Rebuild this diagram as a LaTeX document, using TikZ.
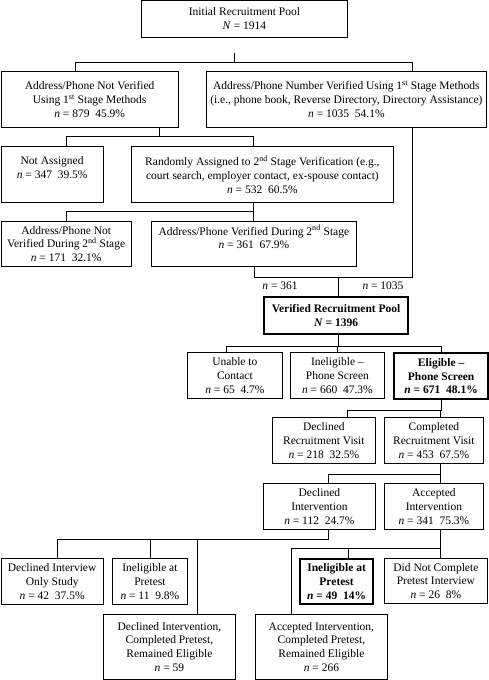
\documentclass[tikz,border=0pt]{standalone}
\usepackage{fontspec}
\setmainfont{Liberation Serif}

\begin{document}
\begin{tikzpicture}[x=1pt, y=-1pt]
			\tikzstyle{Box}		= [draw, line width=0.8pt, align=center, anchor=north west, inner sep=1pt, font=\fontsize{11.5}{13.8}\selectfont]
			\tikzstyle{Heavy}	= [line width=2.2pt, font=\bfseries\fontsize{11.5}{13.8}\selectfont]
			\tikzstyle{Link}	= [line width=0.8pt]
			\tikzstyle{Count}	= [font=\fontsize{11.5}{13.8}\selectfont, inner sep=0pt]
			
			\useasboundingbox (0,0) rectangle (488,680);
			
			% first stage
			\node (init) at (141,0) [Box, minimum width=206pt, minimum height=37pt] {Initial Recruitment Pool\\ \textit{N} = 1914};
			\node (nv1) at (0.5,71) [Box, minimum width=177.5pt, minimum height=56pt] {Address/Phone Not Verified\\ Using 1\textsuperscript{st} Stage Methods\\ \textit{n} = 879\ \ 45.9\%};
			\node (v1) at (206,71) [Box, minimum width=280pt, minimum height=56pt] {Address/Phone Number Verified Using 1\textsuperscript{st} Stage Methods\\ (i.e., phone book, Reverse Directory, Directory Assistance)\\ \textit{n} = 1035\ \ 54.1\%};
			
			% second stage
			\node (na) at (0.5,146) [Box, minimum width=102.5pt, minimum height=56pt] {Not Assigned\\ \textit{n} = 347\ \ 39.5\%\\ \mbox{}};
			\node (ra) at (131,146) [Box, minimum width=262pt, minimum height=56pt] {Randomly Assigned to 2\textsuperscript{nd} Stage Verification (e.g.,\\ court search, employer contact, ex-spouse contact)\\ \textit{n} = 532\ \ 60.5\%};
			\node (nv2) at (0.5,221) [Box, minimum width=130.5pt, minimum height=45pt] {Address/Phone Not\\ Verified During 2\textsuperscript{nd} Stage\\ \textit{n} = 171\ \ 32.1\%};
			\node (v2) at (151,221) [Box, minimum width=205pt, minimum height=45pt] {Address/Phone Verified During 2\textsuperscript{nd} Stage\\ \textit{n} = 361\ \ 67.9\%\\ \mbox{}};
			
			% verified pool
			\node (pool) at (263,296) [Box, Heavy, minimum width=144pt, minimum height=37pt] {Verified Recruitment Pool\\ \textit{N} = 1396};
			\node (c361) at (280,286) [Count] {\textit{n} = 361};
			\node (c1035) at (383,286) [Count] {\textit{n} = 1035};
			
			\node (utc) at (187,352) [Box, minimum width=95pt, minimum height=46pt] {Unable to\\ Contact\\ \textit{n} = 65\ \ 4.7\%};
			\node (inel) at (290,352) [Box, minimum width=94pt, minimum height=46pt] {Ineligible --\\ Phone Screen\\ \textit{n} = 660\ \ 47.3\%};
			\node (elig) at (393,352) [Box, Heavy, minimum width=94pt, minimum height=46pt] {Eligible --\\ Phone Screen\\ \textit{n} = 671\ \ 48.1\%};
			
			\node (drv) at (272,417) [Box, minimum width=103pt, minimum height=46pt] {Declined\\ Recruitment Visit\\ \textit{n} = 218\ \ 32.5\%};
			\node (crv) at (384,417) [Box, minimum width=99pt, minimum height=46pt] {Completed\\ Recruitment Visit\\ \textit{n} = 453\ \ 67.5\%};
			
			\node (di) at (263,483) [Box, minimum width=112pt, minimum height=46pt] {Declined\\ Intervention\\ \textit{n} = 112\ \ 24.7\%};
			\node (ai) at (384,483) [Box, minimum width=99pt, minimum height=46pt] {Accepted\\ Intervention\\ \textit{n} = 341\ \ 75.3\%};
			
			% outcomes
			\node (dios) at (0.5,558) [Box, minimum width=102.5pt, minimum height=46pt] {Declined Interview\\ Only Study\\ \textit{n} = 42\ \ 37.5\%};
			\node (ip1) at (112,558) [Box, minimum width=75pt, minimum height=46pt] {Ineligible at\\ Pretest\\ \textit{n} = 11\ \ 9.8\%};
			\node (dicp) at (103,614) [Box, minimum width=132pt, minimum height=65pt] {Declined Intervention,\\ Completed Pretest,\\ Remained Eligible\\ \textit{n} = 59};
			\node (ip2) at (299,558) [Box, Heavy, minimum width=73pt, minimum height=45pt] {Ineligible at\\ Pretest\\ \textit{n} = 49\ \ 14\%};
			\node (dnc) at (384,558) [Box, minimum width=103pt, minimum height=45pt] {Did Not Complete\\ Pretest Interview\\ \textit{n} = 26\ \ 8\%};
			\node (aicp) at (255,614) [Box, minimum width=132pt, minimum height=65pt] {Accepted Intervention,\\ Completed Pretest,\\ Remained Eligible\\ \textit{n} = 266};
			
			\draw [Link] ([xshift=-10pt, yshift=-15pt]init.south) -- ++(0,10) -| ([xshift=-14pt]nv1.north);
			\draw [Link] ([xshift=-10pt, yshift=-15pt]init.south) -- ++(0,10) -| ([xshift=66pt]v1.north);
			
			\draw [Link] ([xshift=70pt]nv1.south) -- ++(0,9) -| ([xshift=14.5pt]na.north);
			\draw [Link] ([xshift=70pt]nv1.south) -- ++(0,9) -| ([xshift=-9pt]ra.north);
			
			\draw [Link] ([xshift=-9pt]ra.south) -- ++(0,9) -| (nv2.north);
			\draw [Link] ([xshift=-9pt]ra.south) -- ++(0,9) -| ([xshift=-0.5pt]v2.north);
			
			\draw [Link] (v2.south) -- ++(0,11) -| ([xshift=66pt]v1.south);
			\draw [Link] ([xshift=2pt]pool.north) -- ++(0,-19);
			
			\draw [Link] ([xshift=2pt]pool.south) -- ++(0,11) -| ([xshift=-8.5pt]utc.north);
			\draw [Link] ([xshift=2pt]pool.south) -- ++(0,11) -| (inel.north);
			\draw [Link] ([xshift=2pt]pool.south) -- ++(0,11) -| (elig.north);
			
			\draw [Link] (elig.south) -- ++(0,10) -| ([xshift=23.5pt]drv.north);
			\draw [Link] (elig.south) -- ++(0,10) -| ([xshift=6.5pt]crv.north);
			
			\draw [Link] ([xshift=6.5pt]crv.south) -- ++(0,11) -| ([xshift=9pt]di.north);
			\draw [Link] ([xshift=6.5pt]crv.south) -- ++(0,11) -| ([xshift=6.5pt]ai.north);
			
			\draw [Link] ([xshift=9pt]di.south) -- ++(0,10) -| ([xshift=5.5pt]dios.north);
			\draw [Link] ([xshift=9pt]di.south) -- ++(0,10) -| (ip1.north);
			\draw [Link] ([xshift=9pt]di.south) -- ++(0,10) -| ([xshift=28pt]dicp.north);
			
			\draw [Link] ([xshift=6.5pt]ai.south) -- ++(0,19) -| ([xshift=11.5pt]ip2.north);
			\draw [Link] ([xshift=6.5pt]ai.south) -- ++(0,19) -| ([xshift=4.5pt]dnc.north);
			\draw [Link] ([xshift=6.5pt]ai.south) -- ++(0,19) -| ([xshift=-30pt]aicp.north);
\end{tikzpicture}
\end{document}
